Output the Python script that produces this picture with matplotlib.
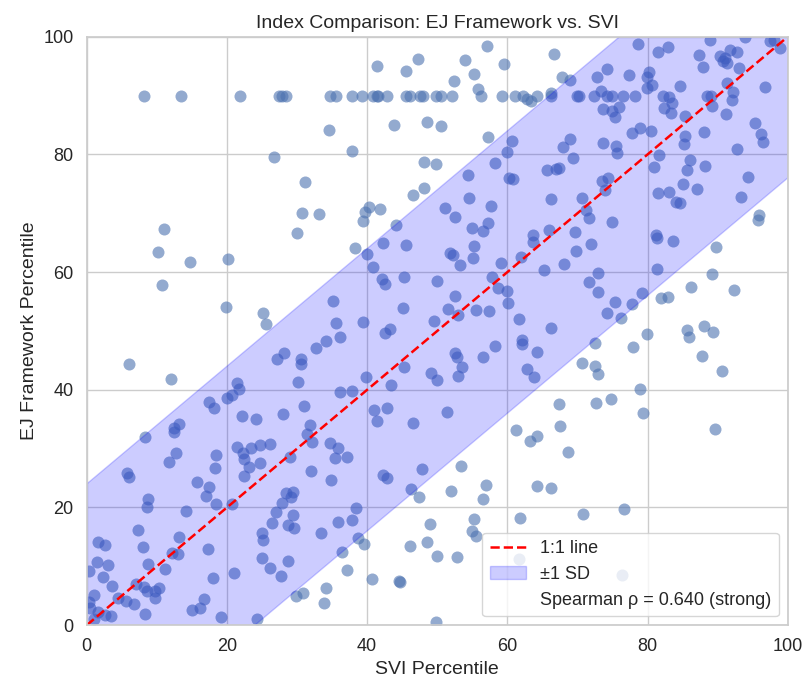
import matplotlib
matplotlib.use("Agg")
import matplotlib.pyplot as plt
import seaborn as sns
import numpy as np

# tracts sitting on the EJ cap of 90
capped_svi = [8.1, 13.4, 21.8, 27.4, 27.8, 28.4, 34.7, 35.5, 37.8, 39.2,
              40.8, 41.4, 41.5, 42.8, 45.5, 46.1, 47.6, 47.9, 49.8, 50.6,
              52.1, 56.3, 59.3, 61.1, 62.2, 64.2, 66.3, 69.9, 70.2, 72.3,
              74.2, 74.9, 76.5, 78.2, 82.2, 88.5, 89.1]
capped_ej = [90.0] * len(capped_svi)

# (svi, ej) pairs
upper_pts = [
    (55.8, 91.2), (62.8, 89.4), (63.4, 89.0), (66.2, 90.5), (73.3, 90.7),
    (83.1, 89.8), (83.5, 88.8), (89.2, 88.3), (92.2, 90.6), (92.0, 89.3),
    (11.0, 67.3),
    (41.4, 95.1), (47.2, 96.3), (45.6, 94.2), (43.9, 85.0), (48.6, 85.6),
    (34.5, 84.2), (37.8, 80.6), (26.7, 79.6), (48.1, 78.7), (49.8, 78.4),
    (31.1, 75.3), (48.1, 74.3), (46.6, 73.1), (30.7, 70.1), (33.1, 69.9),
    (40.2, 71.1), (39.7, 70.2), (41.8, 70.7), (39.4, 68.7), (44.1, 68.0),
    (30.0, 66.7),
    (57.1, 98.5), (66.6, 97.1), (53.9, 96.1), (59.5, 95.4), (55.3, 93.7),
    (52.4, 92.5), (67.8, 93.2), (69.0, 92.7), (74.2, 94.6), (72.8, 93.1),
    (50.6, 84.9), (57.2, 83.0), (73.6, 87.8), (74.9, 87.4), (60.6, 82.3),
    (68.9, 82.6), (67.9, 81.3), (59.9, 80.4), (69.3, 79.4), (73.6, 82.0),
    (58.2, 78.6), (54.4, 76.5), (65.6, 77.3), (67.0, 77.6), (67.3, 77.7),
    (60.2, 76.0), (60.8, 75.8), (73.5, 75.5), (74.3, 76.0), (74.0, 74.0),
    (70.6, 72.6), (66.2, 72.4), (54.5, 72.6), (51.1, 70.9), (57.6, 71.3),
    (52.5, 69.4), (71.2, 70.6), (71.6, 69.2), (57.3, 68.4), (54.9, 67.5),
    (56.5, 67.0), (66.0, 67.2), (69.6, 66.8), (63.6, 66.3), (74.9, 68.5),
    (78.7, 98.8), (82.9, 98.3), (81.5, 97.4), (88.9, 99.5), (93.9, 99.9),
    (97.4, 99.2), (98.1, 99.5), (98.9, 98.1), (87.4, 96.9), (87.9, 94.9),
    (90.3, 96.8), (91.0, 96.4), (90.7, 95.8), (91.3, 95.5), (91.8, 97.8),
    (92.7, 97.4), (93.0, 94.7), (77.3, 93.5), (79.9, 93.2), (80.2, 94.0),
    (79.9, 91.3), (80.7, 91.8), (84.7, 91.7), (91.4, 92.2), (96.7, 91.5),
    (75.9, 88.1), (75.3, 86.4), (82.3, 87.9), (83.3, 87.1), (85.4, 86.6),
    (91.2, 86.9), (95.3, 85.4), (96.2, 83.5), (96.4, 82.2), (78.9, 84.5),
    (77.8, 83.7), (80.5, 84.0), (85.3, 83.2), (85.2, 81.8), (88.0, 83.8),
    (92.7, 81.0), (75.5, 81.5), (75.6, 80.3), (81.6, 79.9), (80.9, 77.9),
    (86.0, 79.1), (85.6, 77.4), (88.2, 78.1), (94.3, 76.2), (85.0, 75.0),
    (81.5, 73.5), (83.1, 73.6), (87.0, 74.1), (84.0, 71.9), (84.6, 71.7),
    (93.3, 72.8), (95.9, 69.7), (95.7, 68.9), (81.2, 66.3),
]

middle_pts = [
    (10.1, 63.4), (14.8, 61.8), (20.1, 62.2), (10.7, 57.8), (19.8, 54.1),
    (25.1, 53.0), (25.6, 51.1), (6.1, 44.4), (12.0, 41.8), (21.4, 41.1),
    (21.7, 40.1), (20.7, 39.1), (20.0, 38.6), (17.5, 38.0), (18.1, 36.9),
    (22.1, 35.5), (24.2, 35.0), (13.1, 34.2), (12.4, 33.5),
    (38.2, 64.1), (42.2, 65.0), (45.5, 64.6), (40.0, 63.1), (40.8, 60.9),
    (42.1, 58.8), (42.6, 58.0), (45.2, 59.2), (50.0, 58.5), (35.2, 55.1),
    (45.1, 53.9), (35.5, 51.3), (39.4, 51.5), (43.2, 50.3), (42.5, 49.6),
    (36.1, 49.0), (34.1, 48.3), (32.7, 47.1), (28.2, 46.3), (27.1, 45.2),
    (30.5, 45.2), (30.5, 44.4), (49.5, 51.7), (45.2, 43.9), (49.1, 42.9),
    (49.9, 41.7), (39.8, 42.2), (43.4, 40.8), (30.1, 41.3), (36.2, 39.6),
    (37.9, 39.8), (28.0, 35.9), (31.0, 37.2), (31.8, 34.0), (41.0, 36.6),
    (42.9, 36.9), (41.4, 34.7), (46.5, 34.4),
    (55.3, 64.5), (51.8, 63.3), (52.2, 62.9), (53.2, 61.2), (55.1, 62.4),
    (59.1, 61.6), (63.6, 65.2), (72.0, 64.8), (69.8, 63.6), (68.1, 61.4),
    (61.9, 62.6), (65.3, 60.4), (57.8, 59.2), (58.6, 57.3), (59.9, 56.8),
    (60.1, 54.8), (52.6, 56.0), (51.5, 53.7), (52.9, 52.7), (55.5, 53.6),
    (57.4, 53.4), (72.9, 59.9), (71.6, 58.4), (73.0, 56.6), (75.3, 54.9),
    (74.2, 53.1), (61.6, 52.0), (66.3, 50.5), (62.1, 48.5), (62.1, 47.8),
    (64.3, 46.5), (58.3, 47.4), (56.5, 45.6), (52.5, 46.3), (52.8, 45.6),
    (53.5, 43.9), (52.9, 42.4), (62.8, 43.5), (63.8, 42.2), (72.5, 48.0),
    (70.6, 44.6), (72.5, 44.0), (73.0, 42.7), (67.3, 37.6), (72.6, 37.8),
    (74.8, 38.4), (51.4, 36.2), (67.5, 33.8), (61.3, 33.2),
    (81.3, 65.8), (83.6, 65.3), (89.7, 64.3), (81.3, 60.5), (89.2, 59.6),
    (86.2, 57.5), (92.4, 57.0), (79.2, 56.5), (81.9, 55.6), (82.9, 55.8),
    (77.8, 54.6), (76.2, 52.2), (79.9, 49.5), (77.9, 47.3), (85.6, 50.2),
    (85.9, 49.0), (88.0, 50.9), (89.3, 49.8), (87.7, 45.7), (90.6, 43.2),
    (78.9, 40.1), (79.3, 36.0), (89.6, 33.3),
]

lower_pts = [
    (8.3, 32.0), (12.4, 32.8), (12.8, 29.3), (11.8, 27.7), (5.8, 25.9),
    (6.0, 25.2), (18.5, 28.9), (18.3, 26.7), (15.8, 24.3), (17.4, 23.5),
    (17.0, 21.9), (18.5, 20.6), (8.7, 21.4), (8.6, 20.1), (14.1, 19.4),
    (21.5, 30.3), (22.3, 29.3), (23.4, 30.1), (24.7, 30.6), (22.5, 28.2),
    (23.1, 26.9), (24.7, 27.6), (22.4, 25.3), (20.7, 20.6), (7.3, 16.2),
    (1.6, 14.1), (2.6, 13.6), (8.0, 13.3), (13.1, 15.0), (17.3, 13.0),
    (12.1, 12.2), (13.0, 12.1), (1.4, 10.7), (3.0, 10.2), (0.3, 9.2),
    (8.7, 10.4), (11.1, 9.5), (2.3, 8.2), (3.6, 6.7), (21.0, 8.8),
    (18.0, 8.0), (7.1, 7.0), (8.1, 6.5), (8.6, 5.8), (9.7, 5.8),
    (10.3, 6.3), (9.7, 4.6), (1.0, 5.1), (0.3, 3.9), (4.4, 4.6),
    (5.6, 4.1), (6.7, 3.6), (0.4, 2.9), (1.6, 2.2), (2.6, 1.7),
    (3.4, 1.5), (1.0, 1.0), (8.3, 1.9), (16.7, 4.4), (16.1, 2.9),
    (15.0, 2.6), (19.1, 1.4), (24.3, 1.0), (25.0, 15.6), (25.1, 14.5),
    (25.0, 11.4),
    (31.4, 32.5), (32.1, 31.1), (26.2, 30.8), (29.0, 28.6), (34.7, 30.9),
    (35.8, 30.1), (35.4, 28.4), (37.1, 28.6), (32.0, 26.2), (34.8, 24.7),
    (42.2, 25.5), (42.9, 25.0), (47.8, 26.5), (46.2, 23.1), (47.4, 21.8),
    (28.4, 22.4), (29.4, 22.6), (29.2, 21.8), (27.8, 20.7), (27.0, 19.2),
    (29.4, 18.7), (26.4, 17.3), (28.7, 17.0), (29.5, 16.5), (33.4, 15.6),
    (35.9, 17.5), (37.9, 17.9), (38.4, 19.9), (38.7, 14.8), (39.5, 13.8),
    (36.4, 12.4), (26.1, 9.7), (28.7, 10.9), (27.7, 8.3), (37.1, 9.4),
    (29.8, 4.9), (30.8, 5.4), (34.1, 6.3), (33.8, 3.7), (40.7, 7.8),
    (44.5, 7.5), (44.7, 7.3), (46.1, 13.4), (48.5, 14.1), (49.9, 11.7),
    (48.9, 17.2), (49.8, 0.5),
    (63.3, 31.3), (64.3, 32.1), (68.6, 29.4), (53.4, 27.0), (51.9, 22.8),
    (56.9, 23.8), (56.5, 21.4), (64.2, 23.6), (66.3, 23.3), (55.2, 18.0),
    (54.9, 16.0), (55.6, 15.1), (61.8, 18.2), (70.8, 18.9), (52.8, 11.6),
    (61.6, 11.2), (76.6, 19.7), (76.3, 8.5),
]

spearman_rho = 0.640
diff_sd = 24.0

pairs = upper_pts + middle_pts + lower_pts
svi = np.array(capped_svi + [p[0] for p in pairs])
ej = np.array(capped_ej + [p[1] for p in pairs])

sns.set_theme(style="whitegrid")
plt.rcParams['font.family'] = ['Liberation Sans', 'DejaVu Sans']

fig = plt.figure(figsize=(8.03, 6.81), dpi=100)
ax = fig.add_axes([0.108, 0.082, 0.873, 0.864])

ax.scatter(svi, ej, s=75, color='#4c72b0', alpha=0.6, linewidths=0)

line_x = np.array([0, 100])
ax.plot(line_x, line_x, color='red', linestyle='--', linewidth=1.8,
        label='1:1 line')
ax.fill_between(line_x, line_x - diff_sd, line_x + diff_sd,
                color='blue', alpha=0.2, label='±1 SD')
ax.plot([], [], ' ', label=f'Spearman ρ = {spearman_rho:.3f} (strong)')

ax.set_xlim(0, 100)
ax.set_ylim(0, 100)
ax.tick_params(labelsize=13)
ax.set_xlabel('SVI Percentile', fontsize=14)
ax.set_ylabel('EJ Framework Percentile', fontsize=14)
ax.set_title('Index Comparison: EJ Framework vs. SVI', fontsize=14)
ax.legend(loc='lower right', fontsize=13)

fig.savefig('out.png', dpi=100)
